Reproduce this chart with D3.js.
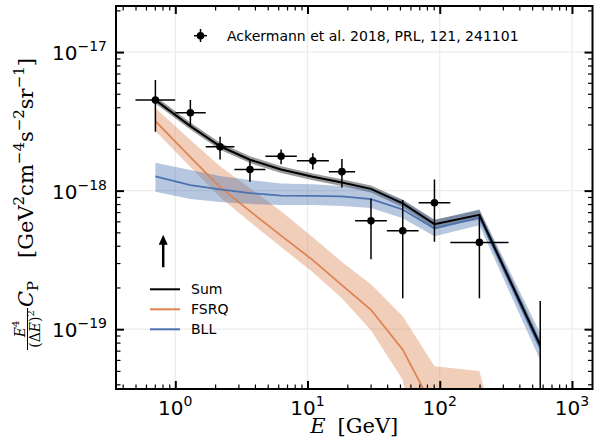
<!DOCTYPE html>
<html>
<head>
<meta charset="utf-8">
<script src="https://cdn.jsdelivr.net/npm/d3@7"></script>
<style>
  html, body { margin: 0; padding: 0; background: #ffffff; }
  svg { display: block; }
</style>
</head>
<body>
<svg id="chart" width="596" height="444"></svg>
<script>
// ---------------- data ----------------
const energy   = [0.707, 1.30, 2.18, 3.67, 6.31, 10.97, 18.2, 30.2, 52.5, 91.2, 199.5, 575.4];
const binLow   = [0.5, 1.0, 1.7, 2.8, 4.8, 8.3, 14.5, 22.9, 39.8, 69.2, 120.2, 331.1];
const binHigh  = [1.0, 1.7, 2.8, 4.8, 8.3, 14.5, 22.9, 39.8, 69.2, 120.2, 331.1, 1000];

const cpData   = [4.50e-18, 3.65e-18, 2.07e-18, 1.42e-18, 1.77e-18, 1.64e-18, 1.37e-18, 6.05e-19, 5.13e-19, 8.17e-19, 4.23e-19, 1.0e-20];
const cpUpper  = [6.28e-18, 4.50e-18, 2.45e-18, 1.66e-18, 1.98e-18, 1.86e-18, 1.69e-18, 8.79e-19, 8.54e-19, 1.205e-18, 6.65e-19, 1.60e-19];
const cpLower  = [2.66e-18, 2.89e-18, 1.68e-18, 1.16e-18, 1.55e-18, 1.42e-18, 1.055e-18, 3.19e-19, 1.67e-19, 4.27e-19, 1.67e-19, 1e-22];

const sumModel = [4.50e-18, 2.92e-18, 2.09e-18, 1.67e-18, 1.42e-18, 1.26e-18, 1.146e-18, 1.03e-18, 8.09e-19, 5.73e-19, 6.68e-19, 7.66e-20];
const sumHigh  = [4.80e-18, 3.10e-18, 2.22e-18, 1.77e-18, 1.50e-18, 1.33e-18, 1.21e-18, 1.09e-18, 8.6e-19, 6.15e-19, 7.25e-19, 8.4e-20];
const sumLow   = [4.25e-18, 2.76e-18, 1.97e-18, 1.58e-18, 1.34e-18, 1.19e-18, 1.08e-18, 9.7e-19, 7.6e-19, 5.35e-19, 6.2e-19, 7.0e-20];

const fsrqModel = [3.18e-18, 1.746e-18, 1.059e-18, 7.11e-19, 4.73e-19, 3.15e-19, 2.08e-19, 1.38e-19, 7.11e-20, 2.6e-20, 3.2e-21, 3.2e-22];
const fsrqHigh  = [3.94e-18, 2.32e-18, 1.50e-18, 1.04e-18, 7.11e-19, 4.61e-19, 3.05e-19, 2.11e-19, 1.24e-19, 5.41e-20, 4.98e-20, 1e-21];
const fsrqLow   = [2.69e-18, 1.479e-18, 8.97e-19, 5.93e-19, 3.91e-19, 2.58e-19, 1.67e-19, 9.84e-20, 4.29e-20, 3.2e-21, 3.2e-22, 1e-22];

const bllModel = [1.266e-18, 1.096e-18, 1.02e-18, 9.6e-19, 9.2e-19, 9.17e-19, 9.1e-19, 8.69e-19, 7.31e-19, 5.33e-19, 6.40e-19, 7.26e-20];
const bllHigh  = [1.589e-18, 1.406e-18, 1.273e-18, 1.191e-18, 1.127e-18, 1.113e-18, 1.078e-18, 1.038e-18, 8.54e-19, 6.12e-19, 7.35e-19, 9.35e-20];
const bllLow   = [9.8e-19, 8.69e-19, 8.26e-19, 7.99e-19, 7.86e-19, 7.86e-19, 7.73e-19, 7.48e-19, 6.33e-19, 4.69e-19, 5.63e-19, 5.97e-20];

const xMajorTicks = [1, 10, 100, 1000];
const xTickExps   = ["0", "1", "2", "3"];
const yMajorTicks = [1e-17, 1e-18, 1e-19];
const yTickExps   = ["\u221217", "\u221218", "\u221219"];

const arrowE = 0.81, arrowFrom = 2.8e-19, arrowTo = 4.8e-19;

const dataLabel = "Ackermann et al. 2018, PRL, 121, 241101";
const seriesNames = ["Sum", "FSRQ", "BLL"];
const seriesColors = ["#000000", "#dd8452", "#4c72b0"];

// ---------------- layout ----------------
const svg = d3.select("#chart");
const L = 116, R = 592.5, T = 6, B = 389;
const x = d3.scaleLog().domain([0.356, 1430]).range([L, R]);
const y = d3.scaleLog().domain([3.7e-20, 2.15e-17]).range([B, T]);

// minor ticks
const xMinor = [];
[0.1, 1, 10, 100].forEach(d => { for (let k = 2; k <= 9; k++) { const v = d * k; if (v > 0.356 && v < 1430) xMinor.push(v); } });
const yMinor = [];
[1e-20, 1e-19, 1e-18, 1e-17].forEach(d => { for (let k = 2; k <= 9; k++) { const v = d * k; if (v > 3.7e-20 && v < 2.15e-17) yMinor.push(v); } });

// grid
const grid = svg.append("g");
xMajorTicks.forEach(t => grid.append("line").attr("x1", x(t)).attr("x2", x(t)).attr("y1", T).attr("y2", B)
  .attr("stroke", "#ececec").attr("stroke-width", 1.2));
yMajorTicks.forEach(t => grid.append("line").attr("y1", y(t)).attr("y2", y(t)).attr("x1", L).attr("x2", R)
  .attr("stroke", "#ececec").attr("stroke-width", 1.2));

// clip
svg.append("defs").append("clipPath").attr("id", "clip")
  .append("rect").attr("x", L).attr("y", T).attr("width", R - L).attr("height", B - T);
const plot = svg.append("g").attr("clip-path", "url(#clip)");

const idx = d3.range(energy.length);
const area = (lo, hi) => d3.area().x(i => x(energy[i])).y0(i => y(lo[i])).y1(i => y(hi[i]));
const line = (v) => d3.line().x(i => x(energy[i])).y(i => y(v[i]));

plot.append("path").attr("d", area(sumLow, sumHigh)(idx)).attr("fill", "#000").attr("fill-opacity", 0.4);
plot.append("path").attr("d", area(fsrqLow, fsrqHigh)(idx)).attr("fill", "#dd8452").attr("fill-opacity", 0.4);
plot.append("path").attr("d", area(bllLow, bllHigh)(idx)).attr("fill", "#4c72b0").attr("fill-opacity", 0.4);

plot.append("path").attr("d", line(fsrqModel)(idx)).attr("fill", "none").attr("stroke", "#dd8452").attr("stroke-width", 1.8);
plot.append("path").attr("d", line(bllModel)(idx)).attr("fill", "none").attr("stroke", "#4c72b0").attr("stroke-width", 1.8);
plot.append("path").attr("d", line(sumModel)(idx)).attr("fill", "none").attr("stroke", "#000").attr("stroke-width", 2);

// error bars
const eb = plot.append("g");
idx.forEach(i => {
  eb.append("line").attr("x1", x(binLow[i])).attr("x2", x(binHigh[i])).attr("y1", y(cpData[i])).attr("y2", y(cpData[i]))
    .attr("stroke", "#000").attr("stroke-width", 1.5);
  eb.append("line").attr("x1", x(energy[i])).attr("x2", x(energy[i])).attr("y1", y(cpLower[i])).attr("y2", y(cpUpper[i]))
    .attr("stroke", "#000").attr("stroke-width", 1.5);
  eb.append("circle").attr("cx", x(energy[i])).attr("cy", y(cpData[i])).attr("r", 3.8).attr("fill", "#000");
});

// arrow
const ax = x(arrowE), ay0 = y(arrowFrom), ay1 = y(arrowTo);
plot.append("line").attr("x1", ax).attr("x2", ax).attr("y1", ay0).attr("y2", ay1 + 8)
  .attr("stroke", "#000").attr("stroke-width", 2.5);
plot.append("path").attr("d", `M${ax},${ay1} L${ax - 4.5},${ay1 + 10} L${ax + 4.5},${ay1 + 10} Z`).attr("fill", "#000");

// axes (ticks inward, all four sides)
function tickAxis(gen, scale, vals, size, w, transform) {
  const g = svg.append("g").attr("transform", transform)
    .call(gen(scale).tickValues(vals).tickSize(size).tickFormat(""));
  g.select(".domain").remove();
  g.selectAll(".tick line").attr("stroke", "#000").attr("stroke-width", w);
}
tickAxis(d3.axisBottom, x, xMajorTicks, -8, 2, `translate(0,${B})`);
tickAxis(d3.axisBottom, x, xMinor, -4.5, 1.2, `translate(0,${B})`);
tickAxis(d3.axisTop, x, xMajorTicks, -8, 2, `translate(0,${T})`);
tickAxis(d3.axisTop, x, xMinor, -4.5, 1.2, `translate(0,${T})`);
tickAxis(d3.axisLeft, y, yMajorTicks, -8, 2, `translate(${L},0)`);
tickAxis(d3.axisLeft, y, yMinor, -4.5, 1.2, `translate(${L},0)`);
tickAxis(d3.axisRight, y, yMajorTicks, -8, 2, `translate(${R},0)`);
tickAxis(d3.axisRight, y, yMinor, -4.5, 1.2, `translate(${R},0)`);

svg.append("rect").attr("x", L).attr("y", T).attr("width", R - L).attr("height", B - T)
  .attr("fill", "none").attr("stroke", "#000").attr("stroke-width", 2);

// tick labels
const tf = "DejaVu Sans";
xMajorTicks.forEach((t, i) => {
  const tx = svg.append("text").attr("x", x(t)).attr("y", 415).attr("text-anchor", "middle")
    .attr("font-family", tf).attr("font-size", 20).attr("fill", "#000");
  tx.append("tspan").text("10");
  tx.append("tspan").attr("font-size", 14).attr("dy", -9).text(xTickExps[i]);
});
yMajorTicks.forEach((t, i) => {
  const tx = svg.append("text").attr("x", 107).attr("y", y(t) + 8).attr("text-anchor", "end")
    .attr("font-family", tf).attr("font-size", 20).attr("fill", "#000");
  tx.append("tspan").text("10");
  tx.append("tspan").attr("font-size", 14).attr("dy", -9).text(yTickExps[i]);
});

// axis labels
const sf = "DejaVu Serif";
const xl = svg.append("text").attr("x", (L + R) / 2).attr("y", 433).attr("text-anchor", "middle")
  .attr("font-family", sf).attr("font-size", 21).attr("fill", "#000");
xl.append("tspan").attr("font-style", "italic").text("E");
xl.append("tspan").attr("dx", 12).text("[GeV]");

const yl = svg.append("g").attr("transform", "translate(33,0) rotate(-90)");
// fraction
yl.append("text").attr("x", -329).attr("y", -8).attr("text-anchor", "middle")
  .attr("font-family", sf).attr("font-size", 14).attr("fill", "#000")
  .call(t => { t.append("tspan").attr("font-style", "italic").text("E");
               t.append("tspan").attr("font-size", 10).attr("dy", -6).text("4"); });
yl.append("line").attr("x1", -350).attr("x2", -308).attr("y1", -5.5).attr("y2", -5.5).attr("stroke", "#000").attr("stroke-width", 1);
yl.append("text").attr("x", -329).attr("y", 7).attr("text-anchor", "middle")
  .attr("font-family", sf).attr("font-size", 14).attr("fill", "#000")
  .call(t => { t.append("tspan").text("(\u0394");
               t.append("tspan").attr("font-style", "italic").text("E");
               t.append("tspan").text(")");
               t.append("tspan").attr("font-size", 10).attr("dy", -6).text("2"); });
// C_P
yl.append("text").attr("x", -307).attr("y", 0).attr("text-anchor", "start")
  .attr("font-family", sf).attr("font-size", 21).attr("fill", "#000")
  .call(t => { t.append("tspan").attr("font-style", "italic").text("C");
               t.append("tspan").attr("font-size", 15).attr("dy", 5).text("P"); });
// units
yl.append("text").attr("x", -58).attr("y", 0).attr("text-anchor", "end")
  .attr("font-family", sf).attr("font-size", 21).attr("fill", "#000")
  .call(t => {
    t.append("tspan").text("[GeV");
    t.append("tspan").attr("font-size", 15).attr("dy", -9).text("2");
    t.append("tspan").attr("dy", 9).text("cm");
    t.append("tspan").attr("font-size", 15).attr("dy", -9).text("\u22124");
    t.append("tspan").attr("dy", 9).text("s");
    t.append("tspan").attr("font-size", 15).attr("dy", -9).text("\u22122");
    t.append("tspan").attr("dy", 9).text("sr");
    t.append("tspan").attr("font-size", 15).attr("dy", -9).text("\u22121");
    t.append("tspan").attr("dy", 9).text("]");
  });

// legend: data
const lg = svg.append("g");
lg.append("line").attr("x1", 194).attr("x2", 207).attr("y1", 35.7).attr("y2", 35.7).attr("stroke", "#000").attr("stroke-width", 1.5);
lg.append("line").attr("x1", 200.5).attr("x2", 200.5).attr("y1", 29).attr("y2", 42).attr("stroke", "#000").attr("stroke-width", 1.5);
lg.append("circle").attr("cx", 200.5).attr("cy", 35.7).attr("r", 3.8).attr("fill", "#000");
lg.append("text").attr("x", 227).attr("y", 40.7).attr("font-family", tf).attr("font-size", 14).attr("fill", "#000").text(dataLabel);

// legend: models
const legY = [289.3, 309.3, 329.3];
seriesNames.forEach((n, i) => {
  lg.append("line").attr("x1", 150).attr("x2", 180).attr("y1", legY[i]).attr("y2", legY[i])
    .attr("stroke", seriesColors[i]).attr("stroke-width", 2);
  lg.append("text").attr("x", 191).attr("y", legY[i] + 5).attr("font-family", tf).attr("font-size", 14)
    .attr("fill", "#000").text(n);
});
</script>
</body>
</html>
